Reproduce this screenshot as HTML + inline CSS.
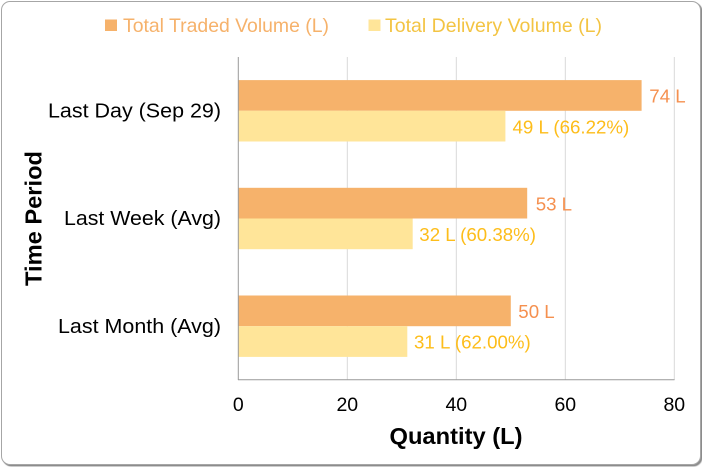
<!DOCTYPE html>
<html><head><meta charset="utf-8"><style>
html,body{margin:0;padding:0;background:#fff;}
body{width:702px;height:467px;overflow:hidden;position:relative;}
.frame{position:absolute;left:0.5px;top:0.5px;width:698px;height:462px;border:1px solid #a6a6a6;border-radius:9px;box-shadow:1px 1px 0 #8c8c8c,1.5px 1.5px 1px #999;background:#fff;}
svg{position:absolute;left:0;top:0;}
text{font-family:"Liberation Sans",Arial,sans-serif;}
</style></head><body>
<div class="frame"></div>
<svg width="702" height="467" viewBox="0 0 702 467">
  <!-- legend -->
  <rect x="105" y="19.5" width="12" height="11.5" fill="#F6B26B"/>
  <text x="123" y="32" font-size="19.5" fill="#F6B26B" textLength="206" lengthAdjust="spacingAndGlyphs">Total Traded Volume (L)</text>
  <rect x="368.5" y="19.5" width="12" height="11.5" fill="#FFE599"/>
  <text x="385" y="32" font-size="19.5" fill="#F3C443" textLength="217" lengthAdjust="spacingAndGlyphs">Total Delivery Volume (L)</text>

  <!-- gridlines -->
  <g stroke="#d9d9d9" stroke-width="1">
    <line x1="347.3" y1="57" x2="347.3" y2="380"/>
    <line x1="456.3" y1="57" x2="456.3" y2="380"/>
    <line x1="565.3" y1="57" x2="565.3" y2="380"/>
    <line x1="674.3" y1="57" x2="674.3" y2="380"/>
  </g>

  <!-- bars -->
  <rect x="238.3" y="80.1" width="403.3" height="30.7" fill="#F6B26B"/>
  <rect x="238.3" y="110.8" width="267.1" height="30.7" fill="#FFE599"/>
  <rect x="238.3" y="187.8" width="288.9" height="30.7" fill="#F6B26B"/>
  <rect x="238.3" y="218.5" width="174.4" height="30.7" fill="#FFE599"/>
  <rect x="238.3" y="295.5" width="272.5" height="30.7" fill="#F6B26B"/>
  <rect x="238.3" y="326.2" width="169" height="30.7" fill="#FFE599"/>

  <!-- axes -->
  <line x1="238.3" y1="57" x2="238.3" y2="380" stroke="#999" stroke-width="1"/>
  <line x1="238" y1="379.8" x2="674.5" y2="379.8" stroke="#999" stroke-width="1"/>

  <!-- value labels -->
  <g font-size="18.7">
    <text x="649.3" y="102.6" fill="#F5904F">74 L</text>
    <text x="512.5" y="133.3" fill="#FDBD1A">49 L (66.22%)</text>
    <text x="535.7" y="210.3" fill="#F5904F">53 L</text>
    <text x="419.3" y="241" fill="#FDBD1A">32 L (60.38%)</text>
    <text x="518.3" y="318" fill="#F5904F">50 L</text>
    <text x="414" y="348.7" fill="#FDBD1A">31 L (62.00%)</text>
  </g>

  <!-- category labels -->
  <g font-size="20" fill="#000" text-anchor="end">
    <text x="221" y="117.5" textLength="173" lengthAdjust="spacingAndGlyphs">Last Day (Sep 29)</text>
    <text x="221" y="225.2" textLength="157" lengthAdjust="spacingAndGlyphs">Last Week (Avg)</text>
    <text x="221" y="333" textLength="163" lengthAdjust="spacingAndGlyphs">Last Month (Avg)</text>
  </g>

  <!-- tick labels -->
  <g font-size="19.5" fill="#000" text-anchor="middle">
    <text x="238.3" y="411">0</text>
    <text x="347.3" y="411">20</text>
    <text x="456.3" y="411">40</text>
    <text x="565.3" y="411">60</text>
    <text x="674.3" y="411">80</text>
  </g>

  <!-- axis titles -->
  <text x="456" y="444" font-size="23.5" font-weight="bold" text-anchor="middle" fill="#000" textLength="133" lengthAdjust="spacingAndGlyphs">Quantity (L)</text>
  <text transform="translate(41.5,218.5) rotate(-90)" x="0" y="0" font-size="23.5" font-weight="bold" text-anchor="middle" fill="#000" textLength="135" lengthAdjust="spacingAndGlyphs">Time Period</text>
</svg>
</body></html>
